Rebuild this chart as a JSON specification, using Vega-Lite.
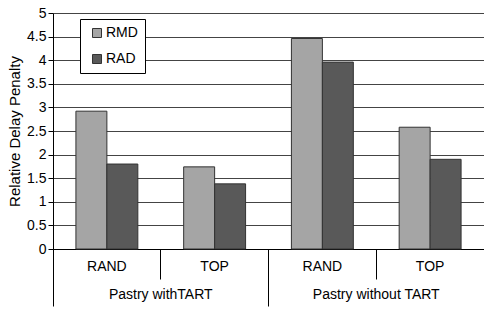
{
  "$schema": "https://vega.github.io/schema/vega-lite/v6.json",
  "width": 431,
  "height": 236,
  "padding": {"left": 7, "top": 6, "right": 0, "bottom": 0},
  "background": "white",
  "config": {
    "view": {"stroke": null},
    "font": "Liberation Sans",
    "axis": {"labelFont": "Liberation Sans", "titleFont": "Liberation Sans", "labelColor": "black", "titleColor": "black"},
    "legend": {"labelFont": "Liberation Sans"}
  },
  "data": {
    "values": [
      {"group": "Pastry withTART", "cat": "with|RAND", "series": "RMD", "value": 2.92},
      {"group": "Pastry withTART", "cat": "with|RAND", "series": "RAD", "value": 1.80},
      {"group": "Pastry withTART", "cat": "with|TOP", "series": "RMD", "value": 1.74},
      {"group": "Pastry withTART", "cat": "with|TOP", "series": "RAD", "value": 1.38},
      {"group": "Pastry without TART", "cat": "without|RAND", "series": "RMD", "value": 4.46},
      {"group": "Pastry without TART", "cat": "without|RAND", "series": "RAD", "value": 3.96},
      {"group": "Pastry without TART", "cat": "without|TOP", "series": "RMD", "value": 2.58},
      {"group": "Pastry without TART", "cat": "without|TOP", "series": "RAD", "value": 1.90}
    ]
  },
  "layer": [
    {
      "mark": {"type": "bar", "stroke": "#333333", "strokeWidth": 1},
      "encoding": {
        "x": {
          "field": "cat", "type": "nominal",
          "sort": ["with|RAND", "with|TOP", "without|RAND", "without|TOP"],
          "scale": {"paddingInner": 0, "paddingOuter": 0},
          "axis": {
            "title": null, "labelAngle": 0, "orient": "bottom",
            "labelExpr": "split(datum.value, '|')[1]",
            "bandPosition": 0, "tickSize": 30, "tickColor": "black",
            "domainColor": "black", "labelFontSize": 14, "labelPadding": -20,
            "labelBaseline": "top"
          }
        },
        "xOffset": {
          "field": "series", "type": "nominal", "sort": ["RMD", "RAD"],
          "scale": {"paddingOuter": 0.74, "paddingInner": 0}
        },
        "y": {
          "field": "value", "type": "quantitative",
          "scale": {"domain": [0, 5], "nice": false},
          "axis": {
            "title": "Relative Delay Penalty", "titleFontSize": 15, "titleFontWeight": "normal",
            "titlePadding": 4,
            "values": [0, 0.5, 1, 1.5, 2, 2.5, 3, 3.5, 4, 4.5, 5],
            "format": ".1~f", "labelFontSize": 14, "labelPadding": 2,
            "tickSize": 5, "tickColor": "black", "domainColor": "black",
            "gridColor": "#444444", "gridOpacity": 1, "gridWidth": 1
          }
        },
        "color": {
          "field": "series", "type": "nominal", "sort": ["RMD", "RAD"],
          "scale": {"domain": ["RMD", "RAD"], "range": ["#a5a5a5", "#595959"]},
          "legend": {
            "title": null, "orient": "none", "legendX": 27, "legendY": 6,
            "symbolType": "square", "symbolSize": 81, "symbolStrokeColor": "#333333",
            "symbolStrokeWidth": 1, "labelFontSize": 14, "labelColor": "black",
            "strokeColor": "black", "fillColor": "white", "padding": 7,
            "symbolOffset": 3, "rowPadding": 12, "labelOffset": 2
          }
        }
      }
    },
    {
      "mark": {"type": "bar", "opacity": 0},
      "encoding": {
        "x": {
          "field": "group", "type": "nominal",
          "sort": ["Pastry withTART", "Pastry without TART"],
          "scale": {"paddingInner": 0, "paddingOuter": 0},
          "axis": {
            "title": null, "labelAngle": 0, "orient": "bottom",
            "domain": false, "bandPosition": 0, "tickSize": 57, "tickColor": "black",
            "labelFontSize": 14, "labelPadding": -19, "labelBaseline": "top"
          }
        }
      }
    }
  ],
  "resolve": {"scale": {"x": "independent", "xOffset": "independent"}, "axis": {"x": "independent"}}
}
